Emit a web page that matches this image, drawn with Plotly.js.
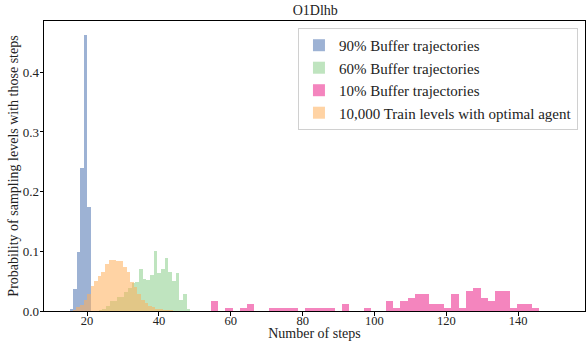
<!DOCTYPE html>
<html><head><meta charset="utf-8">
<script src="https://cdn.plot.ly/plotly-3.0.1.min.js"></script>
<style>html,body{margin:0;padding:0;background:#fff}#chart{width:586px;height:341px}</style>
</head><body><div id="chart"></div>
<script>
// ---- data (density per bin) ----
const seriesNames = ["90% Buffer trajectories", "60% Buffer trajectories", "10% Buffer trajectories", "10,000 Train levels with optimal agent"];

const blueStart = 15.1, blueWidth = 1.0;
const blueValues = [0.004, 0.037, 0.099, 0.240, 0.462, 0.175];

const greenStart = 23.2, greenWidth = 1.02;
const greenValues = [0.002, 0.004, 0.008, 0.016, 0.016, 0.023, 0.023, 0.032, 0.039, 0.047, 0.049,
  0.071, 0.054, 0.052, 0.060, 0.100, 0.064, 0.071, 0.089, 0.066, 0.051, 0.064, 0.019, 0.028, 0.004];

const pinkStart = 54.4, pinkWidth = 2.03;
const pinkValues = [0.0168, 0, 0.0056, 0, 0.0056, 0.0112, 0, 0, 0.0056, 0.0056, 0.0056, 0.0056,
  0, 0.0056, 0.0056, 0.0056, 0.0056, 0, 0.0112, 0, 0, 0.0056, 0, 0,
  0.0168, 0.0056, 0.0168, 0.0224, 0.0280, 0.0280, 0.0112, 0.0112, 0.0056, 0.0280, 0.0056, 0.0336,
  0.0392, 0.0224, 0.0168, 0.0336, 0.0336, 0.0056, 0.0112, 0.0112, 0.0056, 0, 0, 0];

const orangeStart = 16.0, orangeWidth = 1.0;
const orangeValues = [0.002, 0.006, 0.010, 0.018, 0.029, 0.042, 0.051, 0.058, 0.065, 0.079, 0.086, 0.086,
  0.083, 0.083, 0.074, 0.065, 0.049, 0.040, 0.029, 0.019, 0.013, 0.008, 0.006, 0.004, 0.003, 0.002, 0.001, 0.001];

const xTicks = [20, 40, 60, 80, 100, 120, 140];
const yTicks = [0.0, 0.1, 0.2, 0.3, 0.4];

function centers(start, w, vals){ return vals.map((_, i) => start + w*(i+0.5)); }

function barTrace(name, start, w, vals, color){
  return {type:'bar', name:name, x:centers(start,w,vals), y:vals, width:vals.map(()=>w),
    marker:{color:color, line:{width:0}}, hoverinfo:'skip'};
}

const traces = [
  barTrace(seriesNames[0], blueStart, blueWidth, blueValues, 'rgba(76,114,176,0.55)'),
  barTrace(seriesNames[1], greenStart, greenWidth, greenValues, 'rgba(127,201,127,0.5)'),
  barTrace(seriesNames[2], pinkStart, pinkWidth, pinkValues, 'rgba(236,40,140,0.57)'),
  barTrace(seriesNames[3], orangeStart, orangeWidth, orangeValues, 'rgba(255,174,90,0.55)')
];

const font = {family:'"Liberation Serif", "DejaVu Serif", serif', color:'#222', size:13};

const layout = {
  width:586, height:341,
  margin:{l:44, r:1, t:21, b:30},
  paper_bgcolor:'#fff', plot_bgcolor:'#fff',
  barmode:'overlay', bargap:0,
  font:font,
  title:{text:'O1Dlhb', font:{family:font.family, size:14, color:'#222'}, x:0.538, xanchor:'center', y:0.985, yanchor:'top'},
  showlegend:true,
  legend:{x:0.987, xanchor:'right', y:0.976, yanchor:'top', bgcolor:'rgba(255,255,255,0.8)',
    bordercolor:'#d0d0d0', borderwidth:1, font:{family:font.family, size:15, color:'#222'}},
  xaxis:{range:[8.0, 158.6], tickvals:xTicks, ticktext:xTicks.map(String), ticks:'outside', ticklen:3.5,
    tickcolor:'#000', showgrid:false, zeroline:false, showline:true, linecolor:'#000', linewidth:1, mirror:true,
    ticklabelstandoff:-6, automargin:false,
    tickfont:{family:font.family, size:12.5, color:'#222'},
    title:{text:'Number of steps', font:{family:font.family, size:14, color:'#222'}, standoff:2}},
  yaxis:{range:[0, 0.486], tickvals:yTicks, ticktext:yTicks.map(v=>v.toFixed(1)), ticks:'outside', ticklen:3.5,
    tickcolor:'#000', showgrid:false, zeroline:false, showline:true, linecolor:'#000', linewidth:1, mirror:true,
    ticklabelstandoff:-2, automargin:false,
    tickfont:{family:font.family, size:13, color:'#222'},
    title:{text:'Probability of sampling levels with those steps', font:{family:font.family, size:14, color:'#222'}, standoff:0}}
};

Plotly.newPlot('chart', traces, layout, {displayModeBar:false, staticPlot:true});
</script></body></html>
